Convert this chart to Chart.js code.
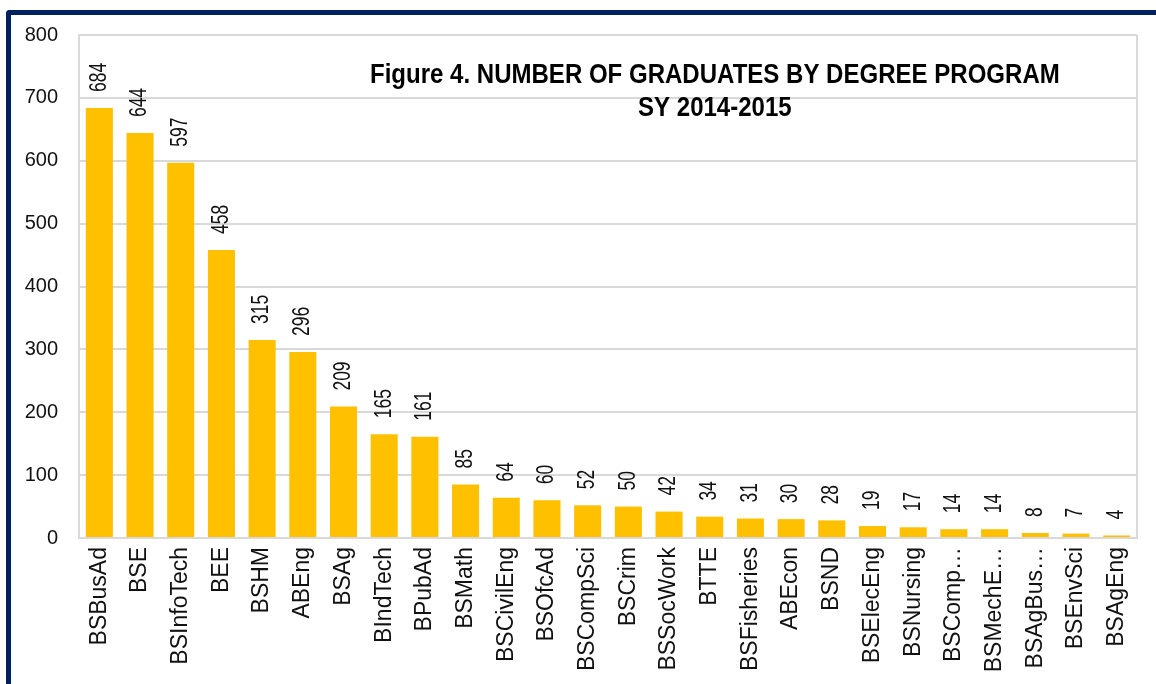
<!DOCTYPE html>
<html>
<head>
<meta charset="utf-8">
<script src="https://cdn.jsdelivr.net/npm/chart.js@4.4.1/dist/chart.umd.min.js"></script>
<style>
  html, body { margin: 0; padding: 0; background: #fff; }
  #wrap { position: relative; width: 1156px; height: 684px; overflow: hidden; }
  #frame {
    position: absolute; left: 6px; top: 10px; right: -10px; bottom: -10px;
    border-left: 5px solid #002060; border-top: 5px solid #002060;
    border-top-left-radius: 4px;
  }
  #c { position: absolute; left: 0; top: 0; }
</style>
</head>
<body>
<div id="wrap">
  <div id="frame"></div>
  <canvas id="c" width="1156" height="684"></canvas>
</div>
<script>
const programs = ['BSBusAd', 'BSE', 'BSInfoTech', 'BEE', 'BSHM', 'ABEng', 'BSAg', 'BIndTech', 'BPubAd',
  'BSMath', 'BSCivilEng', 'BSOfcAd', 'BSCompSci', 'BSCrim', 'BSSocWork', 'BTTE', 'BSFisheries', 'ABEcon',
  'BSND', 'BSElecEng', 'BSNursing', 'BSComp…', 'BSMechE…', 'BSAgBus…', 'BSEnvSci', 'BSAgEng'];
const graduates = [684, 644, 597, 458, 315, 296, 209, 165, 161, 85, 64, 60, 52, 50, 42, 34, 31, 30, 28, 19, 17, 14, 14, 8, 7, 4];
const yTicks = [0, 100, 200, 300, 400, 500, 600, 700, 800];
const titleLines = ['Figure 4. NUMBER OF GRADUATES BY DEGREE PROGRAM', 'SY 2014-2015'];

const GOLD = '#FFC000', GRID = '#d9d9d9', TXT = '#111';
const SANS = '"Liberation Sans", Arial, sans-serif';

// value labels above bars, rotated, slightly condensed like Arial Narrow
const barLabels = {
  id: 'barLabels',
  afterDatasetsDraw(chart) {
    const ctx = chart.ctx;
    const meta = chart.getDatasetMeta(0);
    ctx.save();
    ctx.fillStyle = TXT;
    ctx.font = '23px ' + SANS;
    ctx.textAlign = 'left';
    ctx.textBaseline = 'middle';
    meta.data.forEach((bar, i) => {
      ctx.save();
      ctx.translate(bar.x, bar.y - 16);
      ctx.rotate(-Math.PI / 2);
      ctx.scale(0.76, 1);
      ctx.fillText(String(graduates[i]), 0, 0);
      ctx.restore();
    });
    ctx.restore();
  }
};

// title inside the plot area + right edge of plot area
const innerTitle = {
  id: 'innerTitle',
  afterDraw(chart) {
    const { ctx, chartArea: a } = chart;
    ctx.save();
    ctx.strokeStyle = GRID;
    ctx.lineWidth = 2;
    ctx.beginPath();
    ctx.moveTo(a.right, a.top);
    ctx.lineTo(a.right, a.bottom);
    ctx.stroke();
    ctx.fillStyle = '#000';
    ctx.font = 'bold 27px ' + SANS;
    ctx.textAlign = 'center';
    ctx.textBaseline = 'alphabetic';
    const cx = a.left + 0.601 * (a.right - a.left);
    ctx.translate(cx, 0);
    ctx.scale(0.89, 1);
    ctx.fillText(titleLines[0], 0, a.top + 48);
    ctx.fillText(titleLines[1], 0, a.top + 81);
    ctx.restore();
  }
};

new Chart(document.getElementById('c'), {
  type: 'bar',
  data: {
    labels: programs,
    datasets: [{
      data: graduates,
      backgroundColor: GOLD,
      borderWidth: 0,
      barPercentage: 0.665,
      categoryPercentage: 1
    }]
  },
  options: {
    responsive: false,
    animation: false,
    layout: { padding: { left: 0, top: 35, right: 19, bottom: 0 } },
    plugins: { legend: { display: false }, tooltip: { enabled: false } },
    scales: {
      x: {
        grid: { display: false, drawTicks: false },
        border: { color: GRID, width: 2 },
        ticks: {
          color: TXT, font: { family: SANS, size: 23 },
          maxRotation: 90, minRotation: 90, padding: 9, autoSkip: false
        },
        afterFit(s) { s.height = 146; }
      },
      y: {
        min: 0, max: 800,
        afterBuildTicks(s) { s.ticks = yTicks.map(v => ({ value: v })); },
        grid: { color: GRID, lineWidth: 2, drawTicks: false },
        border: { color: GRID, width: 2 },
        ticks: { color: TXT, font: { family: SANS, size: 20 }, padding: 21 },
        afterFit(s) { s.width = 79; }
      }
    }
  },
  plugins: [barLabels, innerTitle]
});
</script>
</body>
</html>
